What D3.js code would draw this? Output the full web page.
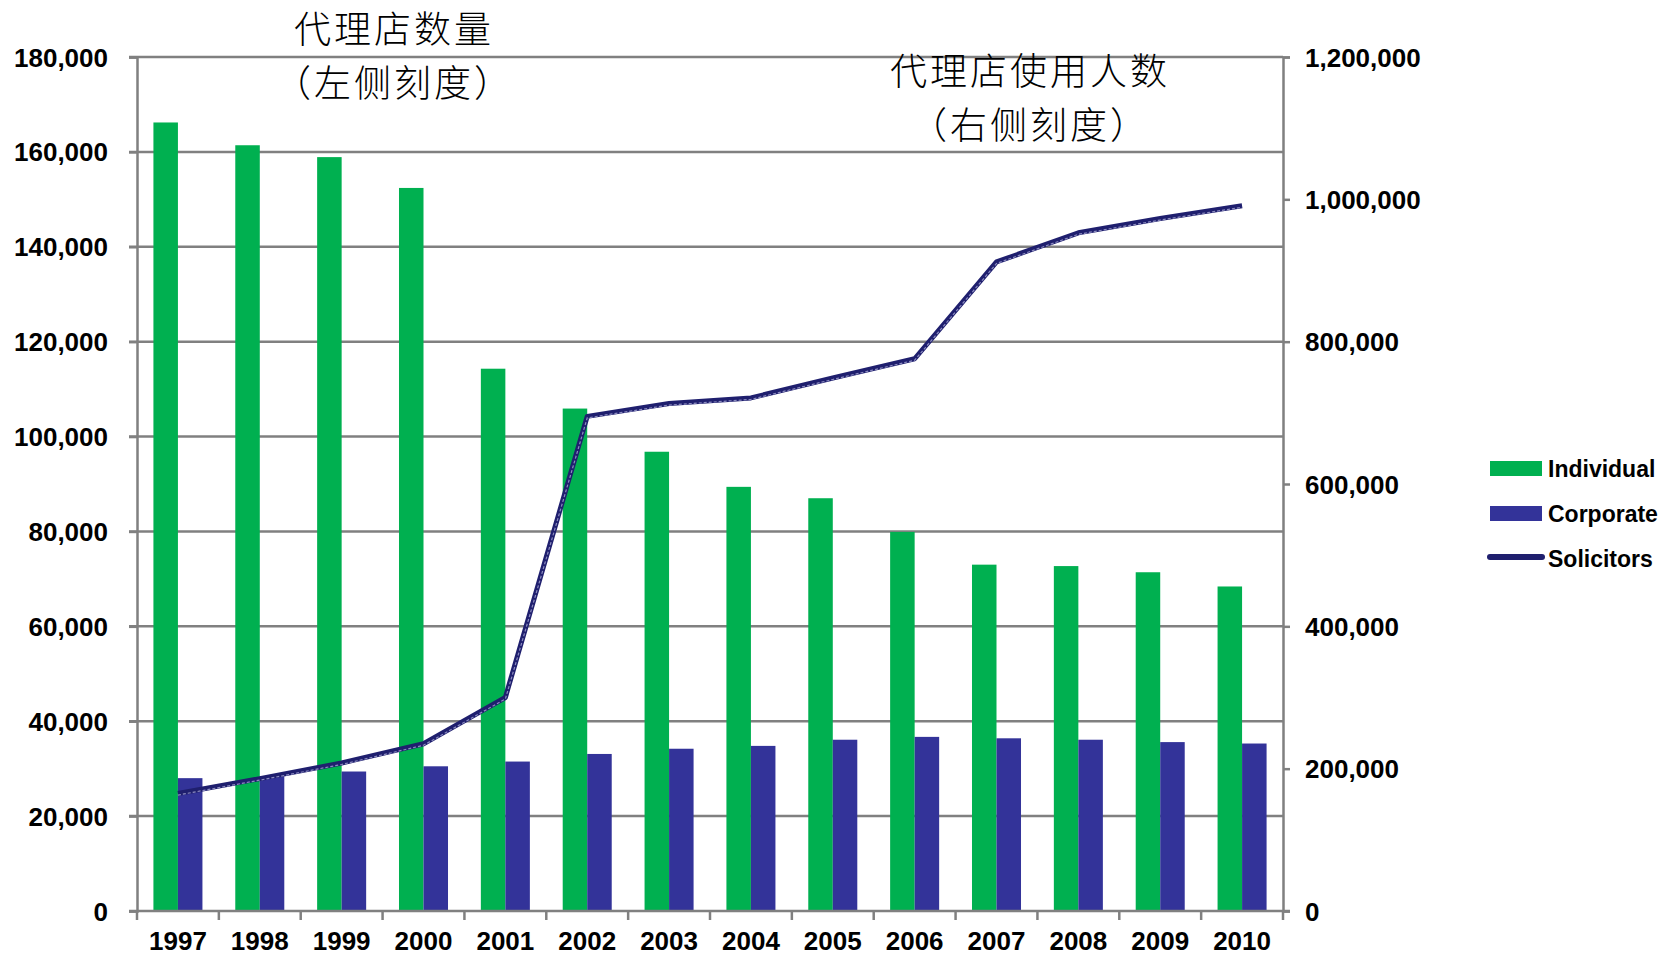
<!DOCTYPE html>
<html>
<head>
<meta charset="utf-8">
<script src="https://cdn.jsdelivr.net/npm/d3@7"></script>
<style>
  body { margin: 0; background: #fff; }
  svg { display: block; }
  .tick-label { font-family: "Liberation Sans", Arial, sans-serif; font-weight: bold; font-size: 26px; fill: #000; }
  .legend-label { font-family: "Liberation Sans", Arial, sans-serif; font-weight: bold; font-size: 23px; fill: #000; }
  .title { font-family: "Noto Sans CJK SC", sans-serif; font-weight: 300; font-size: 37px; letter-spacing: 3px; fill: #000; }
</style>
</head>
<body>
<div id="chart"></div>
<script>
const width = 1677;
const height = 957;

// data
const years = ["1997", "1998", "1999", "2000", "2001", "2002", "2003", "2004", "2005", "2006", "2007", "2008", "2009", "2010"];
const individual = [166200, 161400, 158900, 152400, 114300, 105900, 96800, 89400, 87000, 79900, 73000, 72700, 71400, 68400];
const corporate = [28000, 28400, 29400, 30500, 31500, 33100, 34200, 34800, 36100, 36700, 36400, 36100, 35600, 35300];
const solicitors = [165000, 186000, 208000, 235000, 300000, 695000, 713000, 721000, 749000, 776000, 912000, 953000, 973000, 991000];
const leftTicks = [0, 20000, 40000, 60000, 80000, 100000, 120000, 140000, 160000, 180000];
const rightTicks = [0, 200000, 400000, 600000, 800000, 1000000, 1200000];
const seriesNames = ["Individual", "Corporate", "Solicitors"];

const colors = { Individual: "#00B050", Corporate: "#333399", Solicitors: "#1F1F6E" };

const margin = { left: 137, right: 1283, top: 57, bottom: 911 };

const svg = d3.select("#chart").append("svg")
  .attr("width", width)
  .attr("height", height);

const x = d3.scaleBand().domain(years).range([margin.left, margin.right]).padding(0);
const xSub = d3.scaleBand().domain(["Individual", "Corporate"])
  .range([0, x.bandwidth()]).paddingInner(0).paddingOuter(0.67);
const yLeft = d3.scaleLinear().domain([0, 180000]).range([margin.bottom, margin.top]);
const yRight = d3.scaleLinear().domain([0, 1200000]).range([margin.bottom, margin.top]);

const fmt = d3.format(",");

// gridlines (left scale)
svg.append("g")
  .selectAll("line")
  .data(leftTicks.filter(d => d > 0))
  .enter()
  .append("line")
  .attr("x1", margin.left - 8)
  .attr("x2", margin.right)
  .attr("y1", d => yLeft(d))
  .attr("y2", d => yLeft(d))
  .attr("stroke", "#808080")
  .attr("stroke-width", 2.5);

// bars
const rows = years.map((y, i) => ({ year: y, Individual: individual[i], Corporate: corporate[i] }));
const groups = svg.append("g")
  .selectAll("g")
  .data(rows)
  .enter()
  .append("g")
  .attr("transform", d => `translate(${x(d.year)},0)`);

groups.selectAll("rect")
  .data(d => ["Individual", "Corporate"].map(k => ({ key: k, value: d[k] })))
  .enter()
  .append("rect")
  .attr("x", d => xSub(d.key))
  .attr("width", xSub.bandwidth())
  .attr("y", d => yLeft(d.value))
  .attr("height", d => margin.bottom - yLeft(d.value))
  .attr("fill", d => colors[d.key]);

// left axis
const leftAxis = d3.axisLeft(yLeft).tickValues(leftTicks).tickSize(8).tickFormat(fmt);
const gl = svg.append("g").attr("transform", `translate(${margin.left},0)`).call(leftAxis);
gl.select(".domain").attr("stroke", "#808080").attr("stroke-width", 2.5);
gl.selectAll(".tick line").attr("stroke", "#808080").attr("stroke-width", 2.5);
gl.selectAll(".tick text").attr("class", "tick-label").attr("x", -29).attr("dy", "0.35em");

// right axis
const rightAxis = d3.axisRight(yRight).tickValues(rightTicks).tickSize(7).tickFormat(fmt);
const gr = svg.append("g").attr("transform", `translate(${margin.right},0)`).call(rightAxis);
gr.select(".domain").attr("stroke", "#808080").attr("stroke-width", 2.5);
gr.selectAll(".tick line").attr("stroke", "#808080").attr("stroke-width", 2.5);
gr.selectAll(".tick text").attr("class", "tick-label").attr("x", 22).attr("dy", "0.35em");

// bottom axis with ticks at category boundaries
const gb = svg.append("g").attr("transform", `translate(0,${margin.bottom})`);
gb.append("line")
  .attr("x1", margin.left - 8).attr("x2", margin.right + 7)
  .attr("stroke", "#808080").attr("stroke-width", 2.5);
gb.selectAll(".sep")
  .data(years.concat(["end"]))
  .enter()
  .append("line")
  .attr("x1", (d, i) => margin.left + i * x.step())
  .attr("x2", (d, i) => margin.left + i * x.step())
  .attr("y1", 0).attr("y2", 9)
  .attr("stroke", "#808080").attr("stroke-width", 2.5);
gb.selectAll(".year")
  .data(years)
  .enter()
  .append("text")
  .attr("class", "tick-label")
  .attr("x", d => x(d) + x.bandwidth() / 2)
  .attr("y", 39)
  .attr("text-anchor", "middle")
  .text(d => d);

// solicitors line (right scale)
const line = d3.line()
  .x((d, i) => x(years[i]) + x.bandwidth() / 2)
  .y(d => yRight(d));

svg.append("path")
  .datum(solicitors)
  .attr("d", line)
  .attr("fill", "none")
  .attr("stroke", colors.Solicitors)
  .attr("stroke-width", 5)
  .attr("stroke-linejoin", "round");
svg.append("path")
  .datum(solicitors)
  .attr("d", line)
  .attr("transform", "translate(0,1.5)")
  .attr("fill", "none")
  .attr("stroke", "#8c8cc0")
  .attr("stroke-width", 1.2)
  .attr("stroke-dasharray", "3,2");

// titles
const titles = [
  { text: "代理店数量", x: 394, y: 43 },
  { text: "（左侧刻度）", x: 394, y: 97 },
  { text: "代理店使用人数", x: 1030, y: 85 },
  { text: "（右侧刻度）", x: 1030, y: 139 }
];
svg.selectAll(".title")
  .data(titles)
  .enter()
  .append("text")
  .attr("class", "title")
  .attr("x", d => d.x)
  .attr("y", d => d.y)
  .attr("text-anchor", "middle")
  .text(d => d.text);

// legend
const legend = svg.append("g").attr("transform", "translate(1490,461)");
seriesNames.forEach((name, i) => {
  const yy = i * 45;
  if (name === "Solicitors") {
    legend.append("line")
      .attr("x1", 0).attr("x2", 52)
      .attr("y1", yy + 6).attr("y2", yy + 6)
      .attr("stroke", colors[name])
      .attr("stroke-width", 6)
      .attr("stroke-linecap", "round");
  } else {
    legend.append("rect")
      .attr("x", 0).attr("y", yy)
      .attr("width", 52).attr("height", 15)
      .attr("fill", colors[name]);
  }
  legend.append("text")
    .attr("class", "legend-label")
    .attr("x", 58)
    .attr("y", yy + 16)
    .text(name);
});
</script>
</body>
</html>
